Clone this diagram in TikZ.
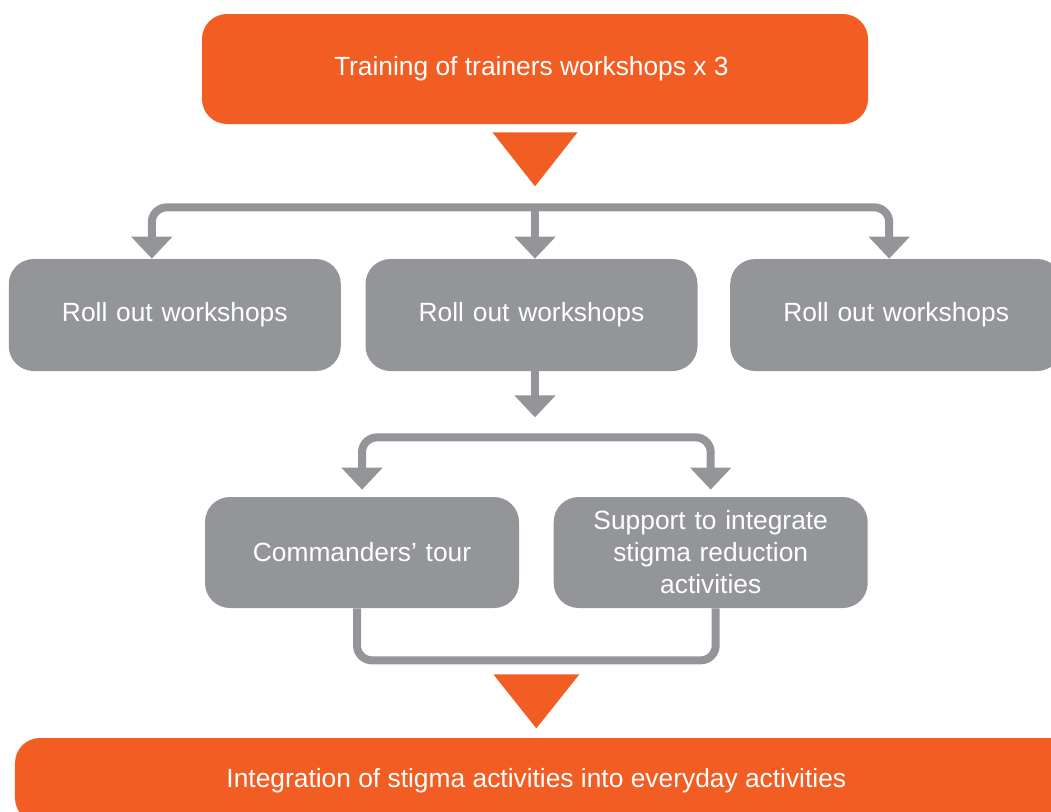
\documentclass[tikz,border=0pt]{standalone}
\usepackage{fontspec}
\setmainfont{Liberation Sans}
\usepackage{tikz}
\usetikzlibrary{positioning,arrows.meta,calc}

\definecolor{unaorange}{RGB}{241,93,35}
\definecolor{unagray}{RGB}{147,149,152}

\begin{document}
\begin{tikzpicture}[
      >={Triangle[width=0.8cm,length=0.44cm]},
      font=\fontsize{15}{18.2}\selectfont
    ]

    \tikzstyle{orangebox} = [rectangle, rounded corners=0.5cm, fill=unaorange, text=white, align=center]

    \tikzstyle{graybox} = [rectangle, rounded corners=0.5cm, fill=unagray, text=white, minimum width=6.64cm, minimum height=2.24cm, text width=6cm, align=center]

    \tikzstyle{flow} = [draw=unagray, line width=0.16cm, rounded corners=0.3cm, ->, unagray]

    \useasboundingbox (0,0) rectangle (21.02,-16.22);
    \clip (0,0) rectangle (21.02,-16.22);

    \node [orangebox, minimum width=13.32cm, minimum height=2.2cm] (train) at (10.7,-1.38) {
    	Training of trainers workshops x 3
    	};

    \node [graybox] (roll2) at (10.63,-6.3) {Roll out workshops};
    \node [graybox, node distance=0.48cm, left=of roll2] (roll1) {Roll out workshops};
    \node [graybox, node distance=0.64cm, right=of roll2] (roll3) {Roll out workshops};

    \node [graybox, minimum width=6.28cm, minimum height=2.22cm, text width=5.6cm] (tour) at (7.24,-11.05) {
    	Commanders’ tour
    	};
    \node [graybox, minimum width=6.28cm, minimum height=2.22cm, text width=5.6cm, node distance=0.68cm, right=of tour] (support) {
    	Support to integrate\\ stigma reduction\\ activities
    	};

    \node [orangebox, minimum width=21.7cm, minimum height=1.7cm] (integ) at (11.15,-15.61) {
    	\hspace*{-0.7cm}Integration of stigma activities into everyday activities
    	};

    % big orange pointers
    \fill [unaorange] ($(train.south)+(-0.85,-0.16)$) -- ($(train.south)+(0.85,-0.16)$) -- ($(train.south)+(0,-1.24)$) -- cycle;

    \coordinate (split1) at ($(train.south)+(0,-1.66)$);
    \draw [flow] (split1) -| ($(roll1.north)+(-0.46,0)$);
    \draw [flow] (split1) -- (split1 |- roll2.north);
    \draw [flow] (split1) -| ($(roll3.north)+(-0.14,0)$);

    \coordinate (split2) at ($(roll2.south -| split1)+(0,-1.32)$);
    \draw [flow, shorten >=0.4cm] (roll2.south -| split1) -- (split2);
    \draw [flow, shorten >=0.14cm] (split2) -| (tour.north);
    \draw [flow, shorten >=0.14cm] (split2) -| (support.north);

    % joining bracket
    \coordinate (mid) at ($(tour.south)!0.5!(support.south)$);
    \coordinate (join) at ($(mid)+(0,-1.04)$);
    \draw [unagray, line width=0.16cm, rounded corners=0.3cm] ($(tour.south)+(-0.1,0)$) |- (join) -| ($(support.south)+(0.1,0)$);

    \fill [unaorange] ($(join)+(-0.86,-0.28)$) -- ($(join)+(0.86,-0.28)$) -- ($(join)+(0,-1.36)$) -- cycle;

\end{tikzpicture}
\end{document}
